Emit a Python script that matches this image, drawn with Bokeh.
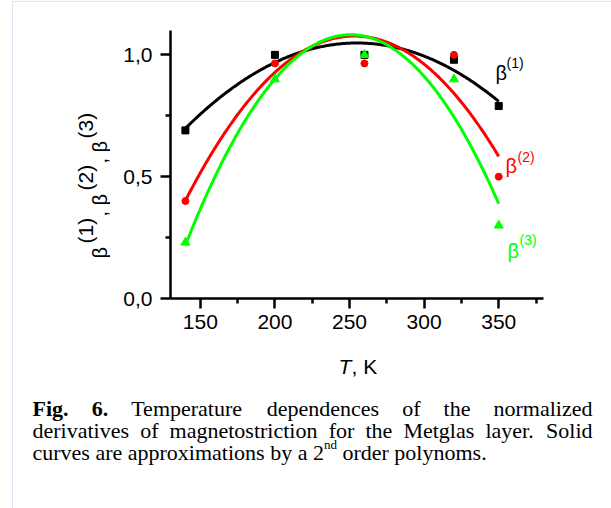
import numpy as np
from bokeh.plotting import figure
from bokeh.layouts import column, row
from bokeh.models import Label, FixedTicker
from bokeh.embed import file_html
from bokeh.resources import INLINE

# ---------------- data ----------------
T = [140, 200, 260, 320, 350]
beta1 = [0.69, 1.00, 1.00, 0.98, 0.79]
beta2 = [0.40, 0.965, 0.965, 1.00, 0.50]
beta3 = [0.23, 0.90, 1.00, 0.90, 0.30]

x_ticks = [150, 200, 250, 300, 350]
x_minor_ticks = [175, 225, 275, 325, 375]
y_ticks = [0.0, 0.5, 1.0]
y_minor_ticks = [0.25, 0.75]
y_tick_labels = ["0,0", "0,5", "1,0"]
series_sup = ["(1)", "(2)", "(3)"]

caption1 = [("Fig.", True), ("6.", True), ("Temperature", False), ("dependences", False),
            ("of", False), ("the", False), ("normalized", False)]
caption2 = ["derivatives", "of", "magnetostriction", "for", "the", "Metglas", "layer.", "Solid"]
caption3a = "curves are approximations by a 2"
caption3sup = "nd"
caption3b = "order polynoms."

RED = "#ff0000"
GREEN = "#00ff00"
BORDER = "#dde6f3"

PW, PH = 611, 508
ROW_H = 346          # page y 0 .. 346
LEFT_W = 110         # page x 0 .. 110
BOT_H = PH - ROW_H
# main frame in page coordinates
FX0, FX1, FY0, FY1 = 170, 543, 30, 298


def style_fig(f):
    f.outline_line_color = None
    f.grid.visible = False
    f.background_fill_color = None
    f.border_fill_color = None


def make_lab(fig, ox, oy_bottom):
    # ox: page x of frame left, oy_bottom: page y of frame bottom
    def lab(text, X, Y, size, color="black", font="Liberation Sans", style="normal", angle=0.0):
        fig.add_layout(Label(x=X - ox, y=oy_bottom - Y, x_units="screen", y_units="screen",
                             text=text, text_font=font, text_font_size=f"{size}px",
                             text_color=color, text_font_style=style, angle=angle,
                             text_align="left", text_baseline="alphabetic"))
    return lab


# ---------------- main chart ----------------
p = figure(width=PW - LEFT_W, height=ROW_H, x_range=(130, 380), y_range=(0, 1.1),
           output_backend="svg", toolbar_location=None,
           min_border_left=FX0 - LEFT_W, min_border_right=PW - FX1,
           min_border_top=FY0, min_border_bottom=ROW_H - FY1)
style_fig(p)

for ax in (p.xaxis[0], p.yaxis[0]):
    ax.axis_line_width = 2.5
    ax.axis_line_color = "black"
    ax.major_tick_line_width = 2.5
    ax.minor_tick_line_width = 2.5
    ax.major_tick_line_color = "black"
    ax.minor_tick_line_color = "black"
    ax.major_tick_in = 0
    ax.major_tick_out = 10
    ax.minor_tick_in = 0
    ax.minor_tick_out = 5
    ax.major_label_text_font = "Liberation Sans"
    ax.major_label_text_font_size = "21px"
    ax.major_label_text_color = "black"

p.xaxis.ticker = FixedTicker(ticks=x_ticks, minor_ticks=x_minor_ticks)
p.yaxis.ticker = FixedTicker(ticks=y_ticks, minor_ticks=y_minor_ticks)
p.yaxis.major_label_overrides = {t: s for t, s in zip(y_ticks, y_tick_labels)}
p.xaxis.major_label_standoff = 6
p.yaxis.major_label_standoff = 8

tt = np.linspace(min(T), max(T), 300)
for ys, col in [(beta1, "black"), (beta2, RED), (beta3, GREEN)]:
    coef = np.polyfit(T, ys, 2)   # 2nd order polynomial approximation
    p.line(tt, np.polyval(coef, tt), line_color=col, line_width=3)

p.scatter(T, beta1, marker="square", size=7, color="black")
p.scatter(T, beta2, marker="circle", size=7, color=RED)
p.scatter(T, beta3, marker="triangle", size=9, color=GREEN)

lab = make_lab(p, FX0, FY1)
lab("β", 495, 72, 20, "black")
lab(series_sup[0], 506, 62, 14, "black")
lab("β", 505, 165, 20, RED)
lab(series_sup[1], 517, 156, 14, RED)
lab("β", 507, 250, 20, GREEN)
lab(series_sup[2], 519, 239, 14, GREEN)

# ---------------- left panel: y axis title (frame aligned with the chart frame) ----------------
yt = figure(width=LEFT_W, height=ROW_H, output_backend="svg", toolbar_location=None,
            x_axis_location=None, y_axis_location=None, x_range=(0, 1), y_range=(0, 1),
            min_border_left=0, min_border_right=0,
            min_border_top=FY0, min_border_bottom=ROW_H - FY1)
style_fig(yt)
ylab = make_lab(yt, 0, FY1)
A = np.pi / 2
ylab("β", 99, 258, 20, angle=A)
ylab(series_sup[0], 85, 243, 21, angle=A)
ylab(",", 99, 216, 20, angle=A)
ylab("β", 99, 205, 20, angle=A)
ylab(series_sup[1], 85, 190, 21, angle=A)
ylab(",", 99, 163, 20, angle=A)
ylab("β", 99, 152, 20, angle=A)
ylab(series_sup[2], 85, 138, 21, angle=A)

# ---------------- bottom panel: x title + caption ----------------
bt = figure(width=PW, height=BOT_H, output_backend="svg", toolbar_location=None,
            x_axis_location=None, y_axis_location=None, x_range=(0, 1), y_range=(0, 1),
            min_border=0)
style_fig(bt)
blab = make_lab(bt, 0, PH)
blab("T", 338, 366, 21, style="italic")
blab(", K", 351, 366, 21)

REG = dict(a=444, b=500, c=444, d=500, e=444, f=333, g=500, h=500, i=278, l=278, m=778,
           n=500, o=500, p=500, r=333, s=389, t=278, u=500, v=500, x=500, y=500, z=444,
           T=611, M=889, S=556)
REG.update({".": 250, " ": 250, "2": 500, "6": 500})
BOLD = {"F": 611, "i": 278, "g": 500, ".": 250, "6": 500, " ": 250}


def tw(s, size, bold=False):
    tab = BOLD if bold else REG
    return sum(tab.get(ch, 500) for ch in s) * size / 1000.0


CS = 22
LEFT, RIGHT = 32, 592


def justify(words, Y):
    total = sum(tw(w, CS, b) for w, b in words)
    gap = (RIGHT - LEFT - total) / (len(words) - 1)
    X = LEFT
    for w, b in words:
        blab(w, X, Y, CS, font="Liberation Serif", style="bold" if b else "normal")
        X += tw(w, CS, b) + gap


justify(caption1, 408)
justify([(w, False) for w in caption2], 430)
blab(caption3a, LEFT, 452, CS, font="Liberation Serif")
xs = LEFT + tw(caption3a, CS)
blab(caption3sup, xs, 444, 13, font="Liberation Serif")
blab(caption3b, xs + tw(caption3sup, 13) + tw(" ", CS), 452, CS, font="Liberation Serif")

layout = column(row(yt, p, spacing=0), bt, spacing=0)
# thin light-blue page border (top and left), painted behind the transparent canvases
layout.styles = {
    "background": (f"linear-gradient({BORDER},{BORDER}) 12px 1px / {PW - 12}px 1px no-repeat, "
                   f"linear-gradient({BORDER},{BORDER}) 12px 1px / 1px {PH - 1}px no-repeat, white")
}
open("out.html", "w").write(file_html(layout, INLINE))
